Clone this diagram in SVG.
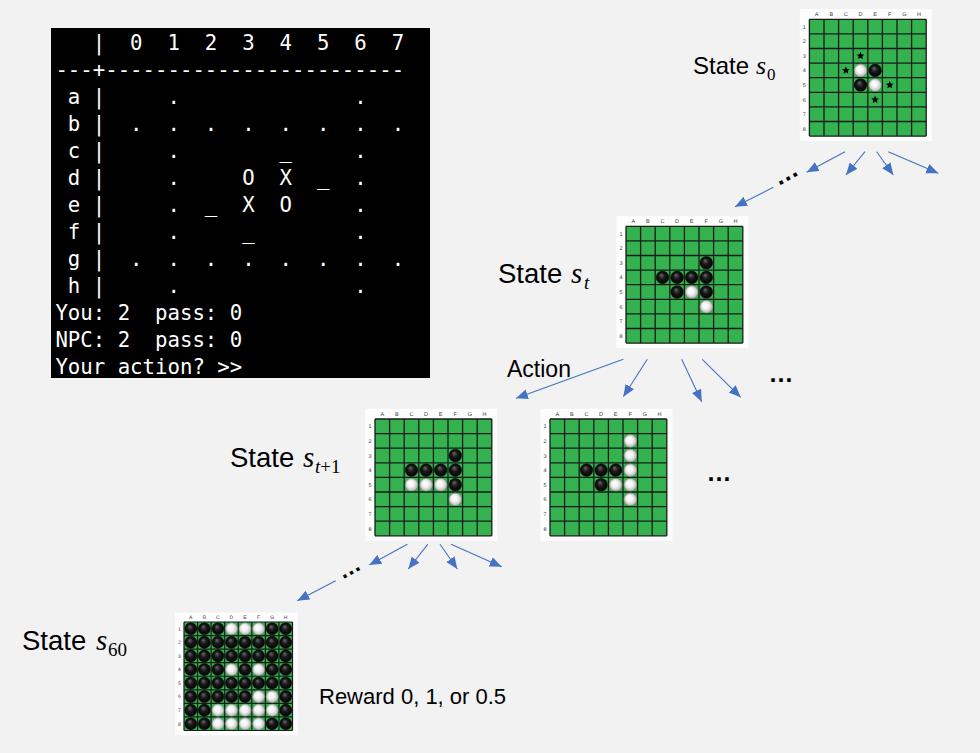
<svg xmlns="http://www.w3.org/2000/svg" width="980" height="753" viewBox="0 0 980 753">
<style>
.term{font-family:"DejaVu Sans Mono","Liberation Mono",monospace;font-size:20.7px;fill:#fff;white-space:pre}
.lbl{font-family:"Liberation Sans",Arial,sans-serif;fill:#000}
.math{font-family:"Liberation Serif","DejaVu Serif",serif;font-style:italic;fill:#000}
.sub{font-family:"Liberation Serif","DejaVu Serif",serif;fill:#000}
.bl{font-family:"Liberation Sans",Arial,sans-serif;font-size:5.5px;fill:#444;text-anchor:middle;text-rendering:geometricPrecision}
.conn{stroke:#4472C4;stroke-width:1.1;fill:none;marker-end:url(#ah)}
.ell{font-family:"Liberation Sans",Arial,sans-serif;font-weight:bold;fill:#000;text-anchor:middle}
</style>
<defs>
<marker id="ah" markerUnits="userSpaceOnUse" markerWidth="13" markerHeight="11" refX="12" refY="5" orient="auto">
<path d="M0,0 L12,5 L0,10 z" fill="#4472C4"/>
</marker>
<radialGradient id="gb" cx="0.5" cy="0.5" r="0.5" fx="0.4" fy="0.3">
<stop offset="0" stop-color="#6a6a6a"/><stop offset="0.45" stop-color="#1c1c1c"/><stop offset="1" stop-color="#000"/>
</radialGradient>
<radialGradient id="gw" cx="0.5" cy="0.5" r="0.5" fx="0.38" fy="0.35">
<stop offset="0" stop-color="#fff"/><stop offset="0.5" stop-color="#f4f4f4"/><stop offset="1" stop-color="#b8b8b8"/>
</radialGradient>
<circle id="b" r="6.3" fill="url(#gb)" stroke="#111" stroke-width="0.6"/>
<circle id="w" r="6.3" fill="url(#gw)" stroke="#8c8c8c" stroke-width="0.5"/>
<circle id="B" r="6.5" fill="url(#gb)" stroke="#111" stroke-width="0.6"/>
<circle id="W" r="6.5" fill="url(#gw)" stroke="#8c8c8c" stroke-width="0.5"/>
<polygon id="star" points="0,-4 1.1,-1.4 3.8,-1.2 1.8,0.6 2.4,3.3 0,1.9 -2.4,3.3 -1.8,0.6 -3.8,-1.2 -1.1,-1.4" fill="#000"/>
<g id="board">
<rect x="-9.6" y="-10.2" width="132" height="132" fill="#fdfdfd"/>
<rect x="0" y="0" width="116.8" height="116.8" fill="#33b24f"/>
<path d="M0,0V116.8M14.6,0V116.8M29.2,0V116.8M43.8,0V116.8M58.4,0V116.8M73,0V116.8M87.6,0V116.8M102.2,0V116.8M116.8,0V116.8M0,0H116.8M0,14.6H116.8M0,29.2H116.8M0,43.8H116.8M0,58.4H116.8M0,73H116.8M0,87.6H116.8M0,102.2H116.8M0,116.8H116.8" stroke="#1b1b1b" stroke-width="1.3" fill="none"/>
<text class="bl" x="7.3" y="-3.5">A</text><text class="bl" x="21.9" y="-3.5">B</text><text class="bl" x="36.5" y="-3.5">C</text><text class="bl" x="51.1" y="-3.5">D</text><text class="bl" x="65.7" y="-3.5">E</text><text class="bl" x="80.3" y="-3.5">F</text><text class="bl" x="94.9" y="-3.5">G</text><text class="bl" x="109.5" y="-3.5">H</text>
<text class="bl" x="-5" y="9.3">1</text><text class="bl" x="-5" y="23.9">2</text><text class="bl" x="-5" y="38.5">3</text><text class="bl" x="-5" y="53.1">4</text><text class="bl" x="-5" y="67.7">5</text><text class="bl" x="-5" y="82.3">6</text><text class="bl" x="-5" y="96.9">7</text><text class="bl" x="-5" y="111.5">8</text>
</g>
</defs>
<rect width="980" height="753" fill="#f2f2f2"/>

<g id="node-terminal">
<rect x="51" y="28" width="379" height="350" fill="#000"/>
<text class="term" xml:space="preserve" x="55.4" y="50">   |  0  1  2  3  4  5  6  7</text>
<text class="term" xml:space="preserve" x="55.4" y="77">---+------------------------</text>
<text class="term" xml:space="preserve" x="55.4" y="104"> a |     .              .</text>
<text class="term" xml:space="preserve" x="55.4" y="131"> b |  .  .  .  .  .  .  .  .</text>
<text class="term" xml:space="preserve" x="55.4" y="158"> c |     .        _     .</text>
<text class="term" xml:space="preserve" x="55.4" y="185"> d |     .     O  X  _  .</text>
<text class="term" xml:space="preserve" x="55.4" y="212"> e |     .  _  X  O     .</text>
<text class="term" xml:space="preserve" x="55.4" y="239"> f |     .     _        .</text>
<text class="term" xml:space="preserve" x="55.4" y="266"> g |  .  .  .  .  .  .  .  .</text>
<text class="term" xml:space="preserve" x="55.4" y="293"> h |     .              .</text>
<text class="term" xml:space="preserve" x="55.4" y="320">You: 2  pass: 0</text>
<text class="term" xml:space="preserve" x="55.4" y="347">NPC: 2  pass: 0</text>
<text class="term" xml:space="preserve" x="55.4" y="374">Your action? &gt;&gt;</text>
</g>

<g id="node-s0">
<g transform="translate(809.4,19.3)">
<use href="#board"/>
<use href="#w" x="51.1" y="51.1"/><use href="#b" x="65.7" y="51.1"/>
<use href="#b" x="51.1" y="65.7"/><use href="#w" x="65.7" y="65.7"/>
<use href="#star" x="51.1" y="36.5"/><use href="#star" x="36.5" y="51.1"/><use href="#star" x="80.3" y="65.7"/><use href="#star" x="65.7" y="80.3"/>
</g>
<text x="693" y="74"><tspan class="lbl" font-size="24">State</tspan><tspan class="math" font-size="26" x="756">s</tspan><tspan class="sub" font-size="17" x="767" y="80">0</tspan></text>
</g>

<g id="node-st">
<g transform="translate(626,226.3)">
<use href="#board"/>
<use href="#b" x="80.3" y="36.5"/>
<use href="#b" x="36.5" y="51.1"/><use href="#b" x="51.1" y="51.1"/><use href="#b" x="65.7" y="51.1"/><use href="#b" x="80.3" y="51.1"/>
<use href="#b" x="51.1" y="65.7"/><use href="#w" x="65.7" y="65.7"/><use href="#b" x="80.3" y="65.7"/>
<use href="#w" x="80.3" y="80.3"/>
</g>
<text x="498" y="283"><tspan class="lbl" font-size="27.5">State</tspan><tspan class="math" font-size="29" x="571">s</tspan><tspan class="math" font-size="19" x="584" y="289">t</tspan></text>
</g>

<g id="node-st1">
<g transform="translate(375,419)">
<use href="#board"/>
<use href="#b" x="80.3" y="36.5"/>
<use href="#b" x="36.5" y="51.1"/><use href="#b" x="51.1" y="51.1"/><use href="#b" x="65.7" y="51.1"/><use href="#b" x="80.3" y="51.1"/>
<use href="#w" x="36.5" y="65.7"/><use href="#w" x="51.1" y="65.7"/><use href="#w" x="65.7" y="65.7"/><use href="#b" x="80.3" y="65.7"/>
<use href="#w" x="80.3" y="80.3"/>
</g>
<text x="230" y="467"><tspan class="lbl" font-size="27.5">State</tspan><tspan class="math" font-size="29" x="303">s</tspan><tspan class="math" font-size="19" x="315" y="473">t</tspan><tspan class="sub" font-size="19" y="473">+1</tspan></text>
</g>

<g id="node-alt">
<g transform="translate(550,419)">
<use href="#board"/>
<use href="#w" x="80.3" y="21.9"/>
<use href="#w" x="80.3" y="36.5"/>
<use href="#b" x="36.5" y="51.1"/><use href="#b" x="51.1" y="51.1"/><use href="#b" x="65.7" y="51.1"/><use href="#w" x="80.3" y="51.1"/>
<use href="#b" x="51.1" y="65.7"/><use href="#w" x="65.7" y="65.7"/><use href="#w" x="80.3" y="65.7"/>
<use href="#w" x="80.3" y="80.3"/>
</g>
</g>

<g id="node-s60">
<g transform="translate(184,622) scale(0.929)">
<use href="#board"/>
<use href="#B" x="7.3" y="7.3"/><use href="#B" x="21.9" y="7.3"/><use href="#B" x="36.5" y="7.3"/><use href="#W" x="51.1" y="7.3"/><use href="#W" x="65.7" y="7.3"/><use href="#W" x="80.3" y="7.3"/><use href="#B" x="94.9" y="7.3"/><use href="#B" x="109.5" y="7.3"/>
<use href="#B" x="7.3" y="21.9"/><use href="#B" x="21.9" y="21.9"/><use href="#B" x="36.5" y="21.9"/><use href="#B" x="51.1" y="21.9"/><use href="#B" x="65.7" y="21.9"/><use href="#B" x="80.3" y="21.9"/><use href="#B" x="94.9" y="21.9"/><use href="#B" x="109.5" y="21.9"/>
<use href="#B" x="7.3" y="36.5"/><use href="#B" x="21.9" y="36.5"/><use href="#B" x="36.5" y="36.5"/><use href="#B" x="51.1" y="36.5"/><use href="#B" x="65.7" y="36.5"/><use href="#B" x="80.3" y="36.5"/><use href="#B" x="94.9" y="36.5"/><use href="#B" x="109.5" y="36.5"/>
<use href="#B" x="7.3" y="51.1"/><use href="#B" x="21.9" y="51.1"/><use href="#B" x="36.5" y="51.1"/><use href="#W" x="51.1" y="51.1"/><use href="#B" x="65.7" y="51.1"/><use href="#W" x="80.3" y="51.1"/><use href="#B" x="94.9" y="51.1"/><use href="#B" x="109.5" y="51.1"/>
<use href="#B" x="7.3" y="65.7"/><use href="#B" x="21.9" y="65.7"/><use href="#B" x="36.5" y="65.7"/><use href="#B" x="51.1" y="65.7"/><use href="#B" x="65.7" y="65.7"/><use href="#B" x="80.3" y="65.7"/><use href="#B" x="94.9" y="65.7"/><use href="#B" x="109.5" y="65.7"/>
<use href="#B" x="7.3" y="80.3"/><use href="#B" x="21.9" y="80.3"/><use href="#B" x="36.5" y="80.3"/><use href="#B" x="51.1" y="80.3"/><use href="#B" x="65.7" y="80.3"/><use href="#W" x="80.3" y="80.3"/><use href="#W" x="94.9" y="80.3"/><use href="#B" x="109.5" y="80.3"/>
<use href="#B" x="7.3" y="94.9"/><use href="#B" x="21.9" y="94.9"/><use href="#W" x="36.5" y="94.9"/><use href="#W" x="51.1" y="94.9"/><use href="#W" x="65.7" y="94.9"/><use href="#W" x="80.3" y="94.9"/><use href="#W" x="94.9" y="94.9"/><use href="#B" x="109.5" y="94.9"/>
<use href="#B" x="7.3" y="109.5"/><use href="#B" x="21.9" y="109.5"/><use href="#W" x="36.5" y="109.5"/><use href="#W" x="51.1" y="109.5"/><use href="#W" x="65.7" y="109.5"/><use href="#W" x="80.3" y="109.5"/><use href="#B" x="94.9" y="109.5"/><use href="#B" x="109.5" y="109.5"/>
</g>
<text x="22" y="650"><tspan class="lbl" font-size="27.5">State</tspan><tspan class="math" font-size="29" x="96">s</tspan><tspan class="sub" font-size="19" x="108" y="656">60</tspan></text>
<text class="lbl" x="319" y="704" font-size="22">Reward 0, 1, or 0.5</text>
</g>

<g id="connectors">
<line class="conn" x1="845" y1="151.7" x2="806.7" y2="172.3"/>
<line class="conn" x1="865" y1="151.7" x2="846" y2="175"/>
<line class="conn" x1="876.7" y1="151.7" x2="893.3" y2="175"/>
<line class="conn" x1="888.3" y1="151.7" x2="938.3" y2="173.3"/>
<line class="conn" x1="773.3" y1="187.3" x2="735" y2="206.7"/>
<text class="ell" font-size="25" transform="translate(789.3,180.3) rotate(-29)">…</text>

<line class="conn" x1="623.3" y1="359.3" x2="516" y2="398.3"/>
<line class="conn" x1="647.3" y1="359.3" x2="623.3" y2="396.7"/>
<line class="conn" x1="681.7" y1="359.3" x2="701.7" y2="401.7"/>
<line class="conn" x1="702.3" y1="359.3" x2="740.7" y2="397.3"/>
<text class="lbl" x="507" y="377" font-size="23">Action</text>
<text class="ell" font-size="25" x="781" y="382">…</text>
<text class="ell" font-size="25" x="719" y="481">…</text>

<line class="conn" x1="407.3" y1="544.3" x2="369.3" y2="565"/>
<line class="conn" x1="427.7" y1="544.3" x2="408.3" y2="569"/>
<line class="conn" x1="440" y1="544.3" x2="457.3" y2="569"/>
<line class="conn" x1="451" y1="544.3" x2="501.7" y2="566.7"/>
<line class="conn" x1="335.7" y1="580.7" x2="297.3" y2="600.7"/>
<text class="ell" font-size="23" transform="translate(352.3,574.3) rotate(-28.5)">…</text>
</g>
</svg>
